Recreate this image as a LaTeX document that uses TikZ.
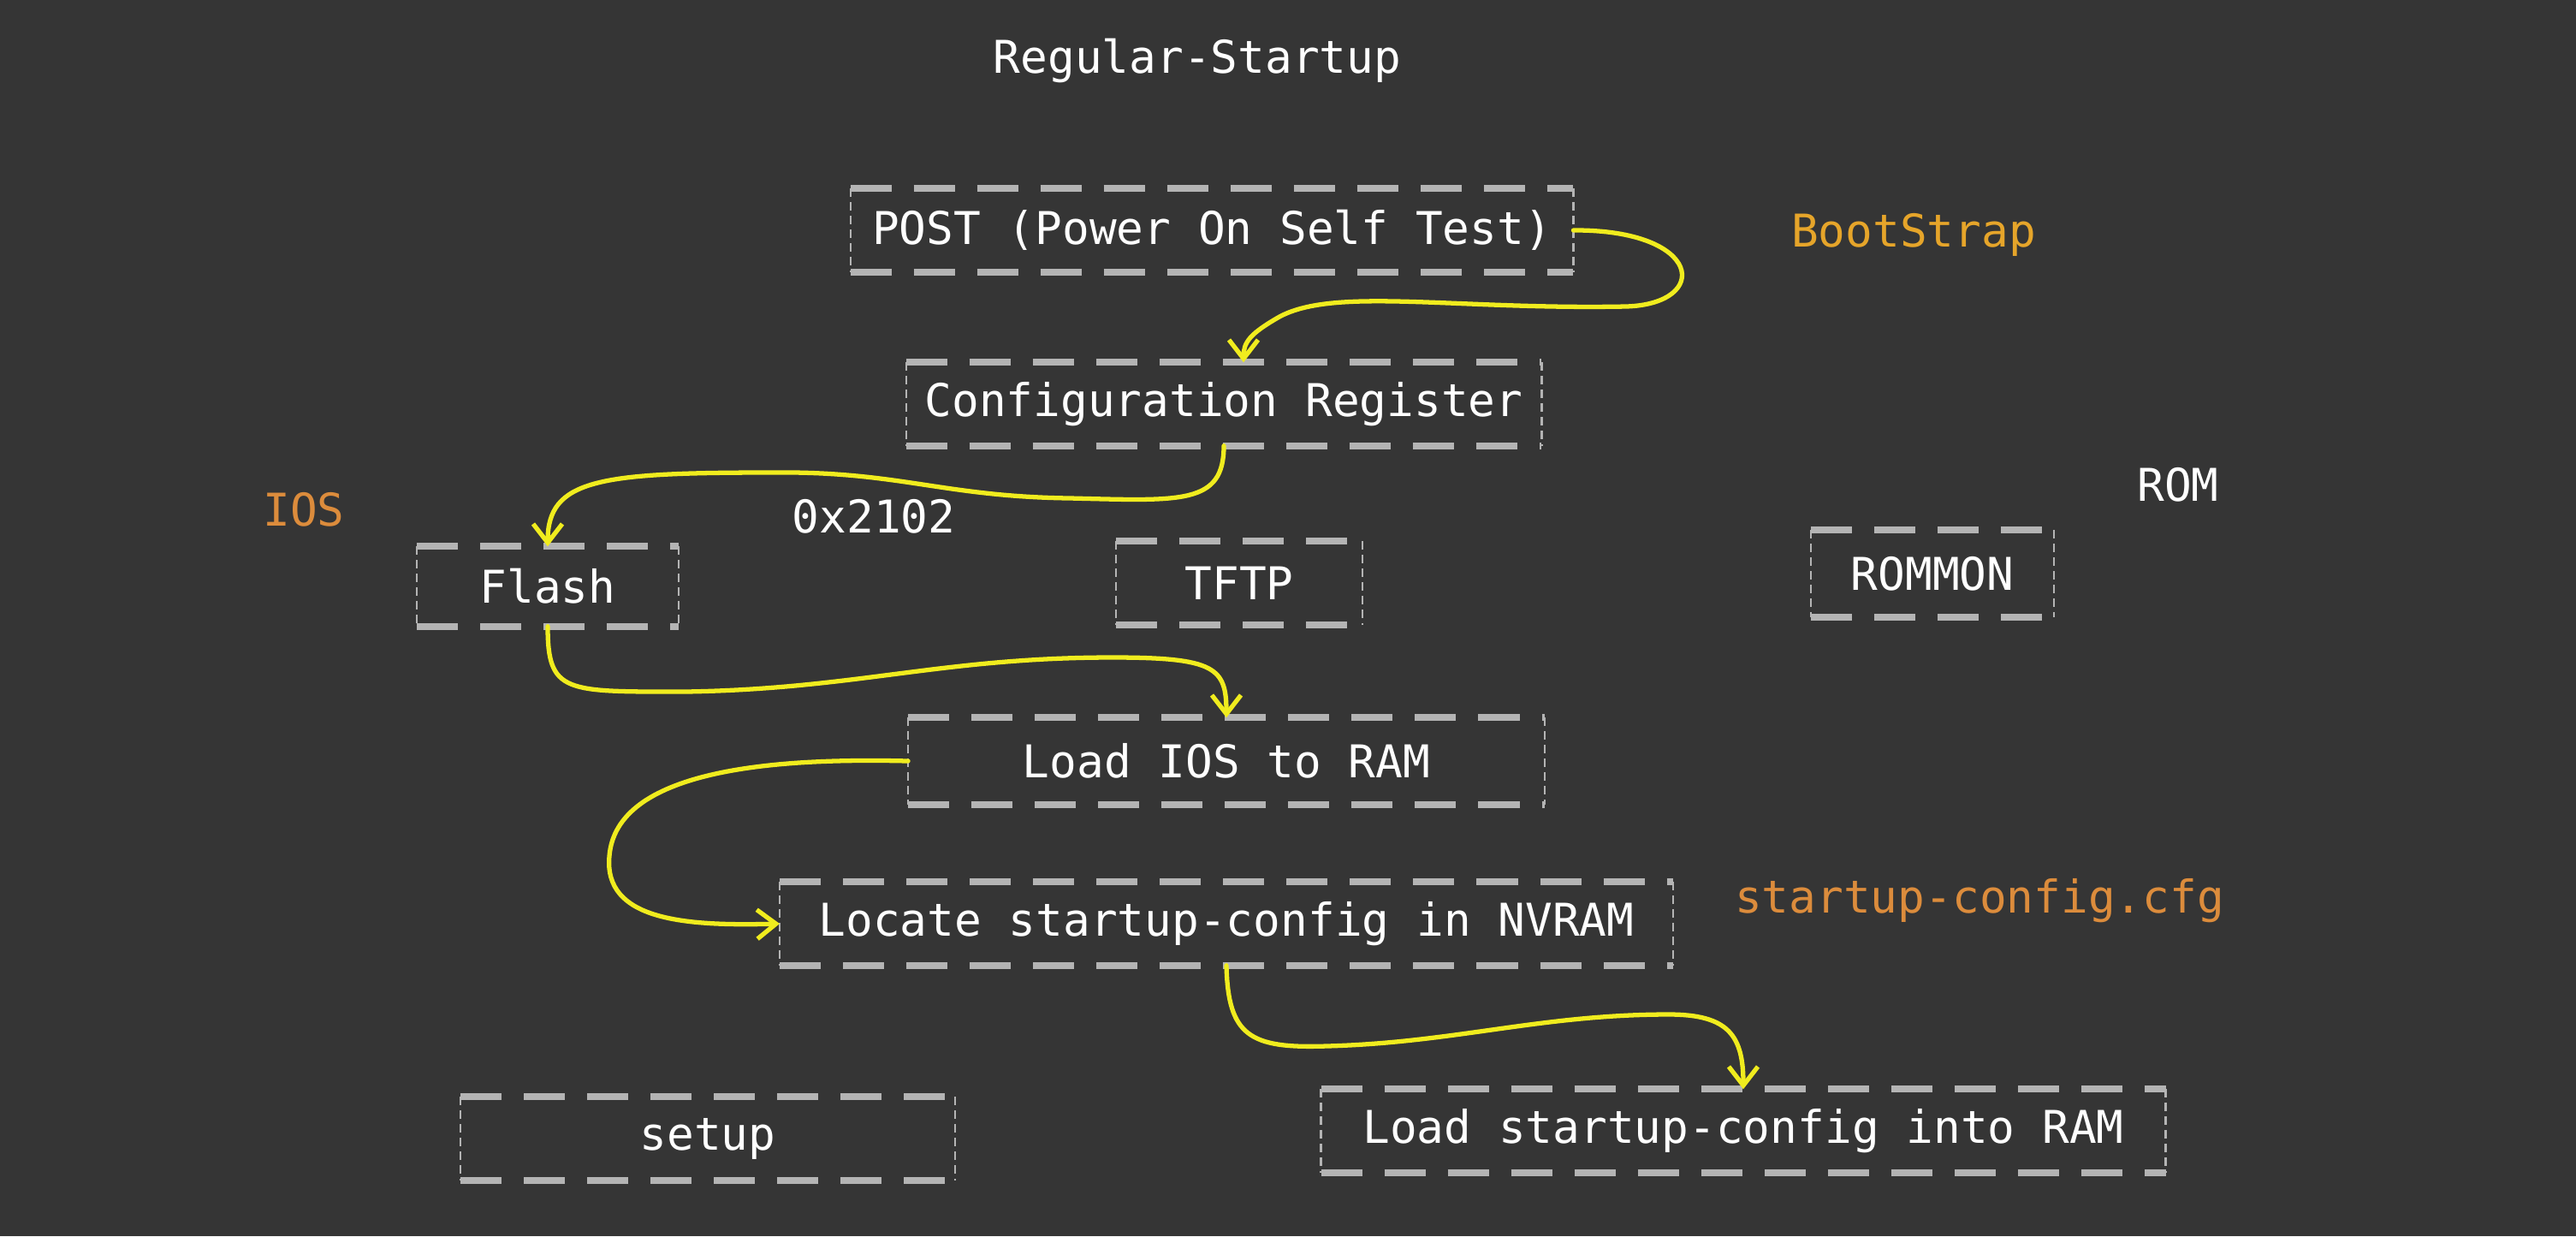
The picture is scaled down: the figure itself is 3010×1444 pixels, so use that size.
\documentclass[tikz,border=0pt]{standalone}
\usepackage{fontspec}
\setmonofont{DejaVu Sans Mono}
\usetikzlibrary{arrows.meta}

\definecolor{board}{HTML}{353535}
\definecolor{boxgray}{HTML}{B4B4B4}
\definecolor{chalkyellow}{HTML}{F0EC1E}
\definecolor{chalkorange}{HTML}{DC8C3C}
\definecolor{chalkgold}{HTML}{E6A52A}

\tikzset{
  hdash/.style={draw=boxgray, line width=2.2pt, dash pattern=on 0.48cm off 0.26cm},
  vdash/.style={draw=boxgray, line width=0.6pt, dash pattern=on 0.1cm off 0.06cm},
  stage/.style={text=white, minimum height=0.96cm, inner sep=0pt,
    append after command={
      (\tikzlastnode.north west) edge[hdash] (\tikzlastnode.north east)
      (\tikzlastnode.south west) edge[hdash] (\tikzlastnode.south east)
      (\tikzlastnode.north west) edge[vdash] (\tikzlastnode.south west)
      (\tikzlastnode.north east) edge[vdash] (\tikzlastnode.south east)}},
  note/.style={text=white},
  flow/.style={draw=chalkyellow, line width=1.5pt, line cap=round,
    -{Straight Barb[length=0.22cm,width=0.34cm]}},
}

\begin{document}
\begin{tikzpicture}[x=0.01cm, y=-0.01cm, font=\ttfamily\fontsize{15}{18}\selectfont]
         \fill[board] (0,0) rectangle (3010,1444) ;
         \useasboundingbox (0,0) rectangle (3010,1444) ;
         % titles and side notes
         \node[note] (title) at (1399,71) {Regular-Startup} ;
         \node[text=chalkgold] (boot) at (2236,274) {BootStrap} ;
         \node[text=chalkorange] (ios) at (355,595) {IOS} ;
         \node[note] (reg) at (1021,603) {0x2102} ;
         \node[note] (rom) at (2545,566) {ROM} ;
         \node[text=chalkorange] (cfgfile) at (2313,1052) {startup-config.cfg} ;
         % boxes
         \node[stage, minimum width=8.43cm] (post) at (1416,269) {POST (Power On Self Test)} ;
         \node[stage, minimum width=7.41cm] (cfg) at (1430,472) {Configuration Register} ;
         \node[stage, minimum width=3.05cm, minimum height=0.92cm] (flash) at (640,685) {Flash} ;
         \node[stage, minimum width=2.86cm] (tftp) at (1448,681) {TFTP} ;
         \node[stage, minimum width=2.83cm, minimum height=1cm] (rommon) at (2258,670) {ROMMON} ;
         \node[stage, minimum width=7.42cm, minimum height=1cm] (loadios) at (1433,889) {Load IOS to RAM} ;
         \node[stage, minimum width=10.42cm] (locate) at (1433,1079) {Locate startup-config in NVRAM} ;
         \node[stage, minimum width=5.76cm] (setup) at (827,1330) {setup} ;
         \node[stage, minimum width=9.85cm] (loadcfg) at (2037,1321) {Load startup-config into RAM} ;
         % boot sequence
         \draw[flow] (post.east) .. controls (1990,268) and (2000,355) .. (1900,358)
            .. controls (1700,362) and (1560,335) .. (1495,370)
            .. controls (1460,390) and (1453,400) .. ([xshift=0.23cm]cfg.north) ;
         \draw[flow] (cfg.south) .. controls (1430,590) and (1380,585) .. (1250,582)
            .. controls (1100,580) and (1050,550) .. (900,552)
            .. controls (700,552) and (640,560) .. (flash.north) ;
         \draw[flow] (flash.south) .. controls (640,810) and (660,808) .. (800,808)
            .. controls (1000,805) and (1100,768) .. (1300,768)
            .. controls (1420,768) and (1433,780) .. (loadios.north) ;
         \draw[flow] (loadios.west) .. controls (900,885) and (720,900) .. (712,1000)
            .. controls (705,1075) and (800,1082) .. (locate.west) ;
         \draw[flow] (locate.south) .. controls (1435,1210) and (1460,1225) .. (1550,1222)
            .. controls (1700,1218) and (1800,1185) .. (1950,1185)
            .. controls (2020,1185) and (2037,1210) .. (loadcfg.north) ;
\end{tikzpicture}
\end{document}
